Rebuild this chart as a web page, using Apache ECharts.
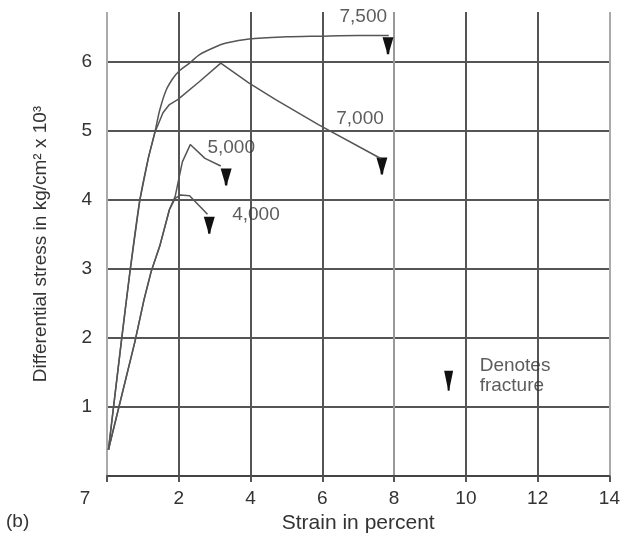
<!DOCTYPE html>
<html>
<head>
<meta charset="utf-8">
<script src="https://cdn.jsdelivr.net/npm/echarts@6/dist/echarts.min.js"></script>
<style>
  html, body { margin: 0; padding: 0; background: #fff; }
  #chart { width: 623px; height: 542px; }
</style>
</head>
<body>
<div id="chart"></div>
<script>
// data: [strain %, stress kg/cm2 x 10^3]
var curve7500 = [[0.04, 0.38], [0.4, 1.95], [0.64, 2.96], [0.91, 3.98], [1.15, 4.6], [1.33, 4.97],
  [1.47, 5.3], [1.65, 5.59], [1.84, 5.76], [2.02, 5.87], [2.3, 5.98], [2.57, 6.1], [3.0, 6.21],
  [3.32, 6.27], [3.96, 6.33], [5.0, 6.36], [5.9, 6.37], [7.0, 6.38], [7.85, 6.38]];
var curve7000 = [[0.04, 0.38], [0.4, 1.95], [0.64, 2.96], [0.91, 3.98], [1.15, 4.6], [1.33, 4.97],
  [1.38, 4.99], [1.56, 5.26], [1.74, 5.38], [1.97, 5.45], [2.57, 5.71], [3.17, 5.98],
  [3.96, 5.69], [4.7, 5.45], [5.89, 5.09], [7.55, 4.62], [7.64, 4.6]];
var curve5000 = [[0.04, 0.38], [0.78, 1.95], [1.03, 2.55], [1.23, 2.96], [1.47, 3.33], [1.74, 3.86],
  [1.9, 4.05], [2.1, 4.55], [2.32, 4.8], [2.73, 4.6], [3.17, 4.49]];
var curve4000 = [[0.04, 0.38], [0.78, 1.95], [1.03, 2.55], [1.23, 2.96], [1.47, 3.33], [1.74, 3.86],
  [1.9, 4.02], [2.05, 4.07], [2.3, 4.06], [2.8, 3.79]];

// fracture arrows
var fractures = [[7.83, 6.23], [7.66, 4.49], [3.32, 4.33], [2.85, 3.63]];
var legendArrow = [[9.52, 1.38]];

// curve labels (confining pressure)
var curveLabels = [[7.14, 6.65, '7,500'], [7.05, 5.17, '7,000'], [3.46, 4.75, '5,000'], [4.15, 3.78, '4,000']];
var legendText = [[10.37, 1.45, 'Denotes\nfracture']];

var xTickLabels = ['7', '2', '4', '6', '8', '10', '12', '14'];
var yTickLabels = ['', '1', '2', '3', '4', '5', '6'];

var arrowPath = 'path://M0,0 L10,0 L6.5,13 L6,17 L4,17 L3.5,13 Z';
var curveStyle = { color: '#555', width: 1.5 };
var txtFont = 'Liberation Sans, Arial, sans-serif';

function lineSeries(data, smooth) {
  return {
    type: 'line', data: data, symbol: 'none', silent: true, smooth: smooth || false,
    lineStyle: curveStyle
  };
}

var chart = echarts.init(document.getElementById('chart'));
chart.setOption({
  animation: false,
  textStyle: { fontFamily: txtFont },
  grid: { left: 107, right: 11, top: 12, bottom: 66 },
  graphic: [{
    type: 'text', left: 6, top: 512,
    style: { text: '(b)', fontSize: 19, fill: '#333', fontFamily: txtFont }
  }],
  xAxis: {
    type: 'value', min: 0, max: 14, interval: 2,
    name: 'Strain in percent', nameLocation: 'middle', nameGap: 36,
    nameTextStyle: { fontSize: 21, color: '#333' },
    axisLine: { show: true, lineStyle: { color: '#444', width: 2 } },
    axisTick: { show: true, length: 6, lineStyle: { color: '#555', width: 2 } },
    axisLabel: {
      fontSize: 19, color: '#333', margin: 13,
      formatter: function (v) {
        var s = xTickLabels[Math.round(v / 2)];
        return v === 0 ? '{o|' + s + '}' : s;
      },
      rich: { o: { fontSize: 19, color: '#333', padding: [0, 44, 0, 0] } }
    },
    splitLine: {
      show: true,
      lineStyle: { width: 2, color: ['#aaa', '#555', '#555', '#555', '#999', '#555', '#555', '#aaa'] }
    }
  },
  yAxis: {
    type: 'value', min: 0, max: 6.72, interval: 1,
    name: 'Differential stress in kg/cm² x 10³', nameLocation: 'middle', nameGap: 57,
    nameTextStyle: { fontSize: 19, color: '#333' },
    axisLine: { show: false },
    axisTick: { show: false },
    axisLabel: {
      fontSize: 19, color: '#333', margin: 15, showMaxLabel: false,
      formatter: function (v) {
        return Math.abs(v - Math.round(v)) < 1e-6 ? (yTickLabels[Math.round(v)] || '') : '';
      }
    },
    splitLine: {
      show: true, showMinLine: false, showMaxLine: false,
      lineStyle: { color: '#555', width: 2 }
    }
  },
  series: [
    lineSeries(curve7500, 0.3),
    lineSeries(curve7000),
    lineSeries(curve5000),
    lineSeries(curve4000),
    {
      type: 'scatter', data: fractures, symbol: arrowPath, symbolSize: [11, 17],
      itemStyle: { color: '#111', opacity: 1 }, silent: true
    },
    {
      type: 'scatter', data: legendArrow, symbol: arrowPath, symbolSize: [9, 20],
      itemStyle: { color: '#111', opacity: 1 }, silent: true
    },
    {
      type: 'scatter', symbolSize: 1, silent: true,
      itemStyle: { color: 'transparent' },
      data: curveLabels.map(function (d) { return { value: [d[0], d[1]], name: d[2] }; }),
      label: {
        show: true, position: 'inside', formatter: '{b}',
        fontSize: 19, color: '#333'
      }
    },
    {
      type: 'scatter', symbolSize: 1, silent: true,
      itemStyle: { color: 'transparent' },
      data: legendText.map(function (d) { return { value: [d[0], d[1]], name: d[2] }; }),
      label: {
        show: true, position: 'right', distance: 0, align: 'left', formatter: '{b}',
        fontSize: 19, lineHeight: 20, color: '#333'
      }
    }
  ]
});
</script>
</body>
</html>
